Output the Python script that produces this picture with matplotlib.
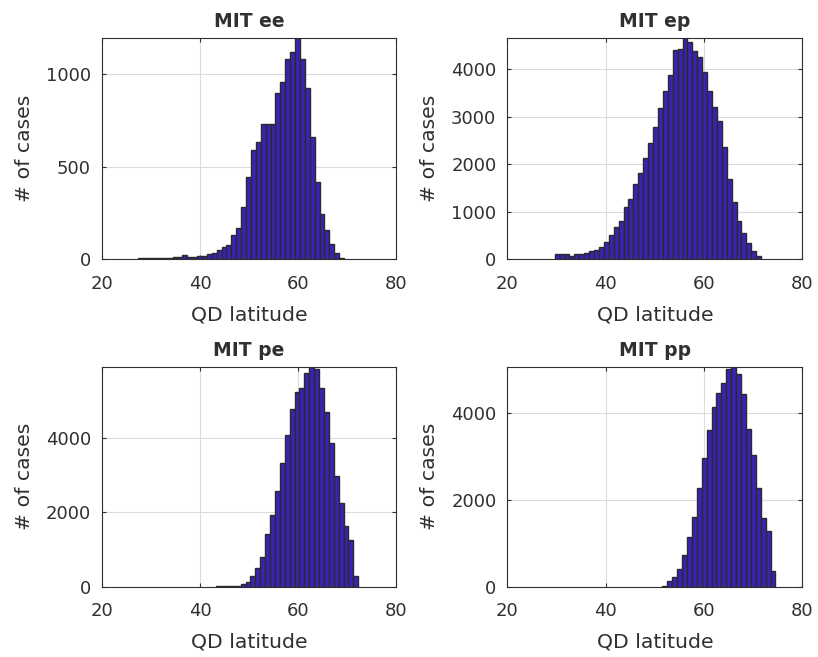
import matplotlib

matplotlib.use("Agg")
import matplotlib.pyplot as plt
import numpy as np

# --- histogram counts (1-degree bins) ---
EE_START = 27.4
EE_COUNTS = [5, 6, 6, 7, 8, 8, 9, 10, 11, 22, 11, 11, 18, 18, 27, 36, 50, 65, 77,
             133, 169, 283, 447, 591, 636, 731, 731, 731, 901, 957, 1083, 1119,
             1195, 1083, 924, 661, 420, 245, 157, 81, 36, 7]

EP_START = 29.6
EP_COUNTS = [105, 105, 105, 70, 105, 105, 140, 168, 196, 253, 365, 519, 688, 807,
             1102, 1270, 1586, 1825, 2140, 2442, 2779, 3193, 3551, 3888, 4407,
             4428, 4653, 4568, 4386, 4267, 3944, 3551, 3214, 2905, 2358, 1691,
             1214, 807, 547, 337, 168, 70]

PE_START = 43.3
PE_COUNTS = [10, 12, 15, 18, 25, 72, 116, 286, 492, 805, 1414, 1915, 2577, 3329,
             4072, 4770, 5235, 5342, 5727, 5906, 5834, 5333, 4680, 3866, 2980,
             2237, 1638, 1244, 277]

PP_START = 51.5
PP_COUNTS = [23, 131, 215, 400, 731, 1154, 1615, 2285, 2977, 3615, 4154, 4477,
             4692, 5023, 5077, 4908, 4438, 3631, 3038, 2285, 1577, 1285, 369]

TITLES = ["MIT ee", "MIT ep", "MIT pe", "MIT pp"]
YTICKS = [[0, 500, 1000], [0, 1000, 2000, 3000, 4000], [0, 2000, 4000], [0, 2000, 4000]]
XTICKS = [20, 40, 60, 80]

FACE, EDGE, INK = "#3c22b4", "#2a2a2a", "#303030"

plt.rcParams.update({"font.family": ["DejaVu Sans"],
                     "font.size": 13, "text.color": INK, "axes.labelcolor": INK,
                     "xtick.color": INK, "ytick.color": INK})

fig = plt.figure(figsize=(8.18, 6.57), dpi=100)
pos = [(0.1247, 0.6053, 0.3594, 0.3364), (0.6204, 0.6053, 0.3606, 0.3364),
       (0.1247, 0.1070, 0.3594, 0.3349), (0.6204, 0.1070, 0.3606, 0.3349)]
data = [(EE_START, EE_COUNTS), (EP_START, EP_COUNTS),
        (PE_START, PE_COUNTS), (PP_START, PP_COUNTS)]

for p, (start, counts), title, yt in zip(pos, data, TITLES, YTICKS):
    ax = fig.add_axes(p)
    edges = start + np.arange(len(counts) + 1)
    ax.bar(edges[:-1], counts, width=1.0, align="edge", color=FACE,
           edgecolor=EDGE, linewidth=1.0, zorder=3)
    ax.set_xlim(20, 80)
    ax.set_ylim(0, max(counts))
    ax.set_xticks(XTICKS)
    ax.set_yticks(yt)
    ax.grid(True, color="#dcdcdc", lw=0.8, zorder=0)
    ax.set_axisbelow(True)
    ax.tick_params(direction="in", top=True, right=True, length=3, labelsize=13)
    ax.tick_params(axis="x", pad=11)
    ax.tick_params(axis="y", pad=8)
    for s in ax.spines.values():
        s.set_color(INK)
        s.set_linewidth(0.8)
    ax.set_title(title, fontsize=13.5, fontweight="bold", pad=8)
    ax.set_xlabel("QD latitude", fontsize=14.7, labelpad=9)
    ax.set_ylabel("# of cases", fontsize=14.7, labelpad=8.5)

fig.savefig("out.png", dpi=100, facecolor="white")
